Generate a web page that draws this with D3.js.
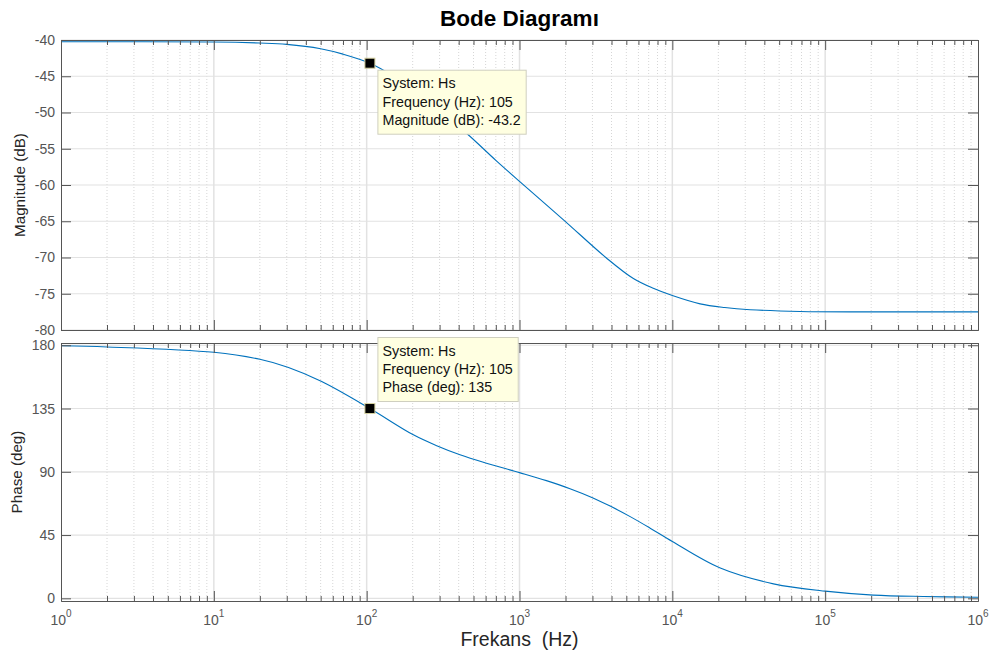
<!DOCTYPE html>
<html>
<head>
<meta charset="utf-8">
<script src="https://cdn.jsdelivr.net/npm/d3@7"></script>
<style>
  body { margin: 0; background: #fff; }
  svg { display: block; font-family: "Liberation Sans", Arial, Helvetica, sans-serif; }
</style>
</head>
<body>
<svg id="chart" width="992" height="658"></svg>
<script>
// Frequency response of Hs, sampled along the curve
const magFreqHz = [1, 10, 20, 30, 50, 70, 105, 150, 200, 300, 452, 700, 1000, 1940, 3720, 5560, 7500, 10000, 15200, 22000, 32300, 68500, 200000, 1000000];
const magDb     = [-40.25, -40.27, -40.42, -40.6, -41.2, -41.95, -43.2, -45.0, -46.9, -49.8, -52.9, -56.6, -59.5, -64.8, -70.1, -72.9, -74.25, -75.25, -76.4, -76.9, -77.2, -77.45, -77.5, -77.5];

const phaseFreqHz = [1, 2, 10, 20, 30.8, 50.8, 105, 202, 290, 408, 600, 1000, 1500, 2140, 3000, 3920, 5300, 7160, 10000, 20600, 45900, 100000, 207000, 440000, 1000000];
const phaseDeg    = [179.6, 178.8, 175.0, 170.0, 164.2, 154.2, 135, 116.3, 108.4, 102.1, 96.3, 89.4, 83.7, 78.0, 71.6, 65.6, 58.1, 49.9, 40.4, 21.5, 10.3, 5.1, 2.3, 1.3, 0.8];

// Axis ticks
const magTicks = [-80, -75, -70, -65, -60, -55, -50, -45, -40];
const phaseTicks = [0, 45, 90, 135, 180];
const decadeExponents = [0, 1, 2, 3, 4, 5, 6];

// Data tips
const tipFreqHz = 105;
const tipMagDb = -43.2;
const tipPhaseDeg = 135;
const systemName = "Hs";

const svg = d3.select("#chart");
const left = 61, right = 978;

const x = d3.scaleLog().domain([1, 1e6]).range([left, right]);
const yMag = d3.scaleLinear().domain([-80, -40]).range([330, 40]);
const yPh = d3.scaleLinear().domain([-1.9, 181.6]).range([601, 343]);

const majorX = decadeExponents.map(e => Math.pow(10, e));
const minorX = [];
decadeExponents.slice(0, -1).forEach(e => {
  for (let k = 2; k <= 9; k++) minorX.push(k * Math.pow(10, e));
});

svg.append("rect").attr("width", 992).attr("height", 658).attr("fill", "#fff");

const axisColor = "#555";

function drawPanel(id, y, yTicks, freqs, vals) {
  const [bottom, top] = y.range();
  const g = svg.append("g");

  // grid
  g.append("g").selectAll("line").data(minorX).join("line")
    .attr("x1", d => x(d)).attr("x2", d => x(d))
    .attr("y1", top).attr("y2", bottom)
    .attr("stroke", "#d6d6d6").attr("stroke-width", 1)
    .attr("stroke-dasharray", "1,2");
  g.append("g").selectAll("line").data(majorX.slice(1, -1)).join("line")
    .attr("x1", d => x(d)).attr("x2", d => x(d))
    .attr("y1", top).attr("y2", bottom)
    .attr("stroke", "#e2e2e2").attr("stroke-width", 1.5);
  g.append("g").selectAll("line").data(yTicks).join("line")
    .attr("x1", left).attr("x2", right)
    .attr("y1", d => y(d)).attr("y2", d => y(d))
    .attr("stroke", "#e2e2e2").attr("stroke-width", 1.2);

  // response curve
  svg.append("clipPath").attr("id", id)
    .append("rect").attr("x", left).attr("y", top)
    .attr("width", right - left).attr("height", bottom - top);
  const line = d3.line()
    .x(d => x(d[0])).y(d => y(d[1]))
    .curve(d3.curveCatmullRom.alpha(0.5));
  g.append("path")
    .datum(freqs.map((f, i) => [f, vals[i]]))
    .attr("d", line)
    .attr("clip-path", `url(#${id})`)
    .attr("fill", "none")
    .attr("stroke", "#0072bd")
    .attr("stroke-width", 1.1);

  // axes (ticks point inward)
  const styleAxis = sel => {
    sel.selectAll("path.domain").attr("stroke", axisColor);
    sel.selectAll(".tick line").attr("stroke", axisColor);
  };
  g.append("g").attr("transform", `translate(${left},0)`)
    .call(d3.axisLeft(y).tickValues(yTicks).tickSize(-10).tickSizeOuter(0).tickPadding(6)
      .tickFormat(d => String(d)))
    .call(styleAxis)
    .call(s => s.selectAll("text").attr("font-size", 14).attr("fill", "#555")
      .attr("font-family", "Liberation Sans, Arial, sans-serif"));
  g.append("g").attr("transform", `translate(${right},0)`)
    .call(d3.axisRight(y).tickValues(yTicks).tickSize(-10).tickSizeOuter(0).tickFormat(""))
    .call(styleAxis);
  [[d3.axisBottom, bottom], [d3.axisTop, top]].forEach(([ax, pos]) => {
    g.append("g").attr("transform", `translate(0,${pos})`)
      .call(ax(x).tickValues(minorX).tickSize(-5).tickSizeOuter(0).tickFormat(""))
      .call(styleAxis);
    g.append("g").attr("transform", `translate(0,${pos})`)
      .call(ax(x).tickValues(majorX).tickSize(-10).tickSizeOuter(0).tickFormat(""))
      .call(styleAxis);
  });
  return g;
}

drawPanel("clip-mag", yMag, magTicks, magFreqHz, magDb);
drawPanel("clip-ph", yPh, phaseTicks, phaseFreqHz, phaseDeg);

// decade labels 10^n
const xl = svg.append("g").attr("fill", "#555").attr("font-size", 14);
decadeExponents.forEach(e => {
  const t = xl.append("text")
    .attr("x", x(Math.pow(10, e)))
    .attr("y", 625)
    .attr("text-anchor", "middle");
  t.append("tspan").text("10");
  t.append("tspan").attr("dy", -8).attr("font-size", 10).text(String(e));
});

// titles
svg.append("text")
  .attr("x", (left + right) / 2).attr("y", 26)
  .attr("text-anchor", "middle")
  .attr("font-size", 22.5).attr("font-weight", "bold").attr("fill", "#000")
  .text("Bode Diagramı");
svg.append("text")
  .attr("x", (left + right) / 2).attr("y", 646)
  .attr("text-anchor", "middle")
  .attr("font-size", 19.5).attr("fill", "#262626")
  .style("white-space", "pre")
  .text("Frekans  (Hz)");
svg.append("text")
  .attr("transform", `translate(25,${(yMag.range()[0] + yMag.range()[1]) / 2}) rotate(-90)`)
  .attr("text-anchor", "middle")
  .attr("font-size", 15.2).attr("fill", "#262626")
  .text("Magnitude (dB)");
svg.append("text")
  .attr("transform", `translate(22,${(yPh.range()[0] + yPh.range()[1]) / 2}) rotate(-90)`)
  .attr("text-anchor", "middle")
  .attr("font-size", 15.2).attr("fill", "#262626")
  .text("Phase (deg)");

// data tips
function dataTip(px, py, lines, below) {
  const g = svg.append("g");
  g.append("rect")
    .attr("x", px - 5).attr("y", py - 5)
    .attr("width", 10).attr("height", 10)
    .attr("fill", "#000").attr("stroke", "#d6d2a2").attr("stroke-width", 1);
  const box = g.append("g");
  const bg = box.append("rect")
    .attr("fill", "#ffffe1").attr("stroke", "#cfcfbf").attr("stroke-width", 1);
  const tx = box.append("g").attr("font-size", 14.3).attr("fill", "#111");
  let w = 0;
  lines.forEach((s, i) => {
    const t = tx.append("text")
      .attr("x", 4.6).attr("y", 14.4 + i * 18.3)
      .attr("dominant-baseline", "middle")
      .text(s);
    w = Math.max(w, t.node().getComputedTextLength());
  });
  const bw = w + 10, bh = 64;
  bg.attr("width", bw).attr("height", bh);
  const bx = px + 8;
  const by = below ? py + 7 : py - 7 - bh;
  box.attr("transform", `translate(${bx},${by})`);
}

dataTip(x(tipFreqHz), yMag(tipMagDb),
  [`System: ${systemName}`, `Frequency (Hz): ${tipFreqHz}`, `Magnitude (dB): ${tipMagDb}`], true);
dataTip(x(tipFreqHz), yPh(tipPhaseDeg),
  [`System: ${systemName}`, `Frequency (Hz): ${tipFreqHz}`, `Phase (deg): ${tipPhaseDeg}`], false);
</script>
</body>
</html>
